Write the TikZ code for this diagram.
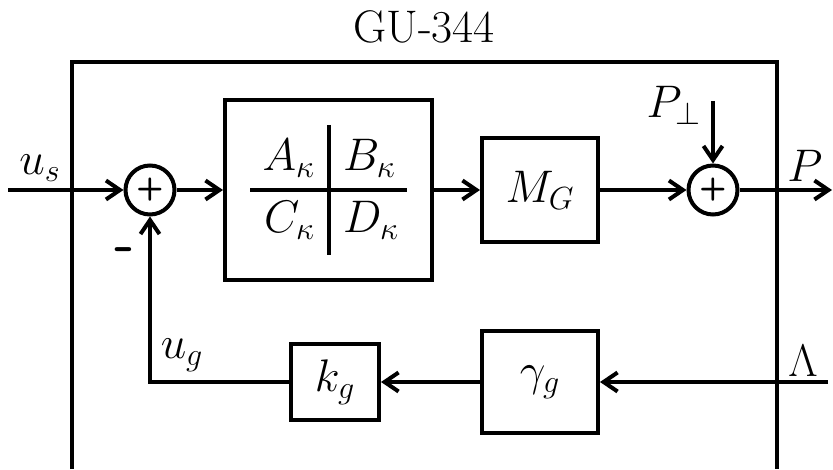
\RequirePackage{fix-cm}
\documentclass[tikz,border=0pt]{standalone}
\usetikzlibrary{arrows.meta,positioning}

\begin{document}
\begin{tikzpicture}[
  every node/.style={font=\fontsize{26}{31}\selectfont},
  >={Straight Barb[length=0.28cm,width=0.38cm]},
  line width=0.08cm,
  blockbox/.style={rectangle, draw, line width=0.08cm, inner sep=0pt},
  sumnode/.style={circle, draw, minimum size=0.98cm, inner sep=0pt,
    font=\fontsize{18}{21}\selectfont\sffamily\bfseries},
  entry/.style={inner sep=0pt},
]
\useasboundingbox (0,0) rectangle (16.66,9.38);

% Outer frame (open at the bottom)
\draw[line join=miter] (1.44,0) -- (1.44,8.14) -- (15.54,8.14) -- (15.54,0);
\node (title) at (8.48,8.84) {GU-344};

% Forward path
\coordinate (us) at (0.16,5.58);
\node (uslbl) at (0.8,6.02) {$u_s$};
\node[sumnode] (s1) at (3.0,5.58) {+};
\node[blockbox, minimum width=4.14cm, minimum height=3.6cm] (ctrl) at (6.57,5.58) {};
\draw ([yshift=-0.54cm]ctrl.north) -- ([yshift=0.54cm]ctrl.south);
\draw ([xshift=0.54cm]ctrl.west) -- ([xshift=-0.54cm]ctrl.east);
\node[entry, anchor=base east] (Ak) at ([shift={(-0.23,0.38)}]ctrl.center) {$A_\kappa$};
\node[entry, anchor=base west] (Bk) at ([shift={(0.25,0.38)}]ctrl.center) {$B_\kappa$};
\node[entry, anchor=base east] (Ck) at ([shift={(-0.23,-0.86)}]ctrl.center) {$C_\kappa$};
\node[entry, anchor=base west] (Dk) at ([shift={(0.25,-0.86)}]ctrl.center) {$D_\kappa$};
\node[blockbox, minimum width=2.32cm, minimum height=2.08cm] (MG) at (10.8,5.58) {$M_G$};
\node[sumnode] (s2) at (14.26,5.58) {+};
\coordinate (pperp) at (14.26,7.36);
\node (pperplbl) at (13.48,7.28) {$P_\perp$};
\coordinate (pout) at (16.64,5.58);
\node (plbl) at (16.1,6.06) {$P$};

\draw[->] (us) -- (s1);
\draw[->] (s1) -- (ctrl);
\draw[->] (ctrl) -- (MG);
\draw[->] (MG) -- (s2);
\draw[->] (pperp) -- (s2);
\draw[->] (s2) -- (pout);

% Feedback path
\coordinate (lam) at (16.56,1.74);
\node (lamlbl) at (16.06,2.16) {$\Lambda$};
\node[blockbox, minimum width=2.32cm, minimum height=2.04cm] (gam) at (10.8,1.74) {$\gamma_g$};
\node[blockbox, minimum width=1.76cm, minimum height=1.52cm] (kg) at (6.7,1.74) {$k_g$};
\node (uglbl) at (3.64,2.28) {$u_g$};
\node[font=\fontsize{32}{36}\selectfont\sffamily\bfseries] (minus) at (2.5,4.28) {-};

\draw[->] (lam) -- (gam);
\draw[->] (gam) -- (kg);
\draw[->] (kg.west) -| (s1.south);

\end{tikzpicture}
\end{document}
